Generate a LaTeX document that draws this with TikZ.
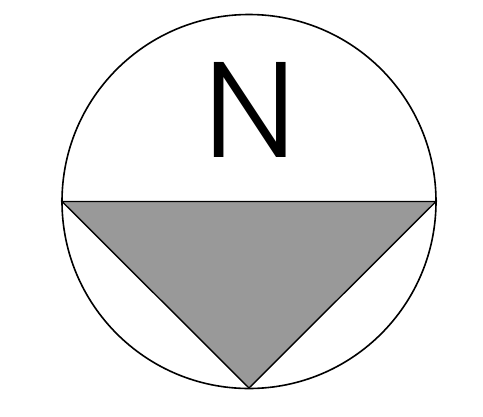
\documentclass[tikz,border=0pt]{standalone}
\usepackage{fontspec}
\newfontfamily\northfont{Poppins Light}
\usetikzlibrary{positioning}

\begin{document}
\begin{tikzpicture}[
    x=1pt, y=-1pt,
    rim/.style={draw, line width=1.6pt},
    pointer/.style={draw, line width=1.4pt, line join=miter, fill=black!40},
    letter/.style={inner sep=0pt, font=\northfont\fontsize{136}{136}\selectfont}
]
\useasboundingbox (0,0) rectangle (483,416);
\coordinate (centre) at (249,201.5);
\coordinate (west) at (62,201.5);
\coordinate (east) at (436,201.5);
\coordinate (tip) at (249,388);
\draw[rim] (centre) circle[radius=187];
\draw[pointer] (west) -- (east) -- (tip) -- cycle;
\node[letter, anchor=base] (north) at (250.5,157) {N};
\end{tikzpicture}
\end{document}
